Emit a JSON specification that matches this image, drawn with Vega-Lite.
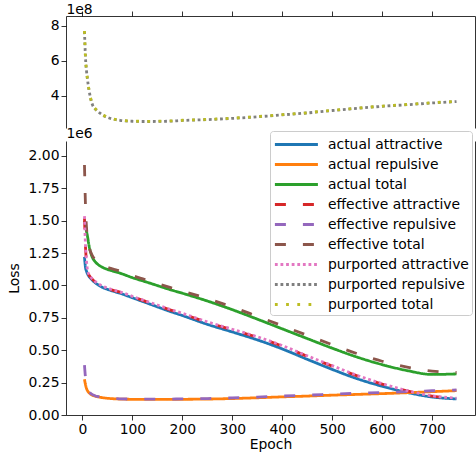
{
  "$schema": "https://vega.github.io/schema/vega-lite/v6.json",
  "width": 409,
  "height": 399,
  "autosize": {"type": "none"},
  "padding": {"left": 66, "top": 16, "right": 1, "bottom": 39},
  "background": "white",
  "config": {
    "view": {"stroke": null},
    "font": "DejaVu Sans",
    "axis": {
      "labelFont": "DejaVu Sans", "labelFontSize": 13.9, "labelColor": "#000",
      "titleFont": "DejaVu Sans", "titleFontSize": 13.9, "titleFontWeight": "normal", "titleColor": "#000",
      "tickColor": "#000", "tickWidth": 0.8, "tickSize": 5,
      "domainColor": "#000", "domainWidth": 0.8,
      "grid": false, "labelPadding": 2
    },
    "legend": {
      "orient": "none", "legendX": 204, "legendY": 115,
      "symbolType": "M-1,0L4,0", "symbolSize": 296, "symbolStrokeWidth": 2.8,
      "labelFont": "DejaVu Sans", "labelFontSize": 13.9, "labelColor": "#000",
      "rowPadding": 2, "padding": 3, "labelOffset": 34,
      "fillColor": "rgba(255,255,255,0.8)", "strokeColor": "#cccccc", "cornerRadius": 3
    }
  },
  "datasets": {
    "top": [
      {"s":"purported repulsive","e":4,"v":770000000},{"s":"purported repulsive","e":6,"v":620000000},{"s":"purported repulsive","e":8,"v":545000000},{"s":"purported repulsive","e":10,"v":495000000},{"s":"purported repulsive","e":13,"v":435000000},{"s":"purported repulsive","e":16,"v":390000000},{"s":"purported repulsive","e":20,"v":350000000},{"s":"purported repulsive","e":25,"v":328000000},{"s":"purported repulsive","e":30,"v":314000000},{"s":"purported repulsive","e":40,"v":292000000},{"s":"purported repulsive","e":50,"v":278000000},{"s":"purported repulsive","e":60,"v":269000000},{"s":"purported repulsive","e":75,"v":261000000},{"s":"purported repulsive","e":100,"v":255500000},{"s":"purported repulsive","e":125,"v":254000000},{"s":"purported repulsive","e":150,"v":254500000},{"s":"purported repulsive","e":175,"v":256000000},{"s":"purported repulsive","e":200,"v":260000000},{"s":"purported repulsive","e":250,"v":265000000},{"s":"purported repulsive","e":300,"v":272000000},{"s":"purported repulsive","e":350,"v":281000000},{"s":"purported repulsive","e":400,"v":292000000},{"s":"purported repulsive","e":450,"v":303000000},{"s":"purported repulsive","e":500,"v":317000000},{"s":"purported repulsive","e":550,"v":329000000},{"s":"purported repulsive","e":600,"v":341000000},{"s":"purported repulsive","e":650,"v":350000000},{"s":"purported repulsive","e":700,"v":360000000},{"s":"purported repulsive","e":749,"v":368000000},
      {"s":"purported total","e":4,"v":771200000},{"s":"purported total","e":6,"v":621200000},{"s":"purported total","e":8,"v":546200000},{"s":"purported total","e":10,"v":496200000},{"s":"purported total","e":13,"v":436200000},{"s":"purported total","e":16,"v":391200000},{"s":"purported total","e":20,"v":351200000},{"s":"purported total","e":25,"v":329200000},{"s":"purported total","e":30,"v":315200000},{"s":"purported total","e":40,"v":293200000},{"s":"purported total","e":50,"v":279200000},{"s":"purported total","e":60,"v":270200000},{"s":"purported total","e":75,"v":262200000},{"s":"purported total","e":100,"v":256700000},{"s":"purported total","e":125,"v":255200000},{"s":"purported total","e":150,"v":255700000},{"s":"purported total","e":175,"v":257200000},{"s":"purported total","e":200,"v":261200000},{"s":"purported total","e":250,"v":266200000},{"s":"purported total","e":300,"v":273200000},{"s":"purported total","e":350,"v":282200000},{"s":"purported total","e":400,"v":293200000},{"s":"purported total","e":450,"v":304200000},{"s":"purported total","e":500,"v":318200000},{"s":"purported total","e":550,"v":330200000},{"s":"purported total","e":600,"v":342200000},{"s":"purported total","e":650,"v":351200000},{"s":"purported total","e":700,"v":361200000},{"s":"purported total","e":749,"v":369200000}
    ],
    "bottom": [
      {"s":"actual attractive","e":4,"v":1220000},{"s":"actual attractive","e":6,"v":1140000},{"s":"actual attractive","e":8,"v":1110000},{"s":"actual attractive","e":10,"v":1090000},{"s":"actual attractive","e":13,"v":1070000},{"s":"actual attractive","e":16,"v":1056000},{"s":"actual attractive","e":20,"v":1040000},{"s":"actual attractive","e":25,"v":1022000},{"s":"actual attractive","e":30,"v":1008000},{"s":"actual attractive","e":40,"v":985000},{"s":"actual attractive","e":50,"v":970000},{"s":"actual attractive","e":60,"v":957000},{"s":"actual attractive","e":75,"v":940000},{"s":"actual attractive","e":100,"v":905000},{"s":"actual attractive","e":125,"v":870000},{"s":"actual attractive","e":150,"v":835000},{"s":"actual attractive","e":175,"v":800000},{"s":"actual attractive","e":200,"v":768000},{"s":"actual attractive","e":250,"v":700000},{"s":"actual attractive","e":300,"v":641000},{"s":"actual attractive","e":350,"v":580000},{"s":"actual attractive","e":400,"v":510000},{"s":"actual attractive","e":450,"v":430000},{"s":"actual attractive","e":500,"v":352000},{"s":"actual attractive","e":550,"v":280000},{"s":"actual attractive","e":600,"v":222000},{"s":"actual attractive","e":650,"v":174000},{"s":"actual attractive","e":700,"v":139000},{"s":"actual attractive","e":749,"v":124000},
      {"s":"actual repulsive","e":4,"v":275000},{"s":"actual repulsive","e":6,"v":235000},{"s":"actual repulsive","e":8,"v":205000},{"s":"actual repulsive","e":10,"v":188000},{"s":"actual repulsive","e":13,"v":172000},{"s":"actual repulsive","e":16,"v":162000},{"s":"actual repulsive","e":20,"v":153000},{"s":"actual repulsive","e":25,"v":146000},{"s":"actual repulsive","e":30,"v":141000},{"s":"actual repulsive","e":40,"v":134000},{"s":"actual repulsive","e":50,"v":129000},{"s":"actual repulsive","e":60,"v":126000},{"s":"actual repulsive","e":75,"v":123000},{"s":"actual repulsive","e":100,"v":121000},{"s":"actual repulsive","e":125,"v":120000},{"s":"actual repulsive","e":150,"v":120000},{"s":"actual repulsive","e":175,"v":120000},{"s":"actual repulsive","e":200,"v":121000},{"s":"actual repulsive","e":250,"v":123000},{"s":"actual repulsive","e":300,"v":127000},{"s":"actual repulsive","e":350,"v":133000},{"s":"actual repulsive","e":400,"v":140000},{"s":"actual repulsive","e":450,"v":146000},{"s":"actual repulsive","e":500,"v":153000},{"s":"actual repulsive","e":550,"v":159000},{"s":"actual repulsive","e":600,"v":165000},{"s":"actual repulsive","e":650,"v":172000},{"s":"actual repulsive","e":700,"v":180000},{"s":"actual repulsive","e":749,"v":188000},
      {"s":"actual total","e":4,"v":1500000},{"s":"actual total","e":6,"v":1460000},{"s":"actual total","e":8,"v":1420000},{"s":"actual total","e":10,"v":1380000},{"s":"actual total","e":13,"v":1310000},{"s":"actual total","e":16,"v":1260000},{"s":"actual total","e":20,"v":1215000},{"s":"actual total","e":25,"v":1185000},{"s":"actual total","e":30,"v":1165000},{"s":"actual total","e":40,"v":1140000},{"s":"actual total","e":50,"v":1124000},{"s":"actual total","e":60,"v":1112000},{"s":"actual total","e":75,"v":1095000},{"s":"actual total","e":100,"v":1060000},{"s":"actual total","e":125,"v":1030000},{"s":"actual total","e":150,"v":999000},{"s":"actual total","e":175,"v":968000},{"s":"actual total","e":200,"v":940000},{"s":"actual total","e":250,"v":880000},{"s":"actual total","e":300,"v":813000},{"s":"actual total","e":350,"v":740000},{"s":"actual total","e":400,"v":665000},{"s":"actual total","e":450,"v":590000},{"s":"actual total","e":500,"v":516000},{"s":"actual total","e":550,"v":447000},{"s":"actual total","e":600,"v":389000},{"s":"actual total","e":650,"v":343000},{"s":"actual total","e":700,"v":313000},{"s":"actual total","e":749,"v":317000},
      {"s":"effective attractive","e":4,"v":1520000},{"s":"effective attractive","e":6,"v":1300000},{"s":"effective attractive","e":8,"v":1180000},{"s":"effective attractive","e":10,"v":1115000},{"s":"effective attractive","e":13,"v":1080000},{"s":"effective attractive","e":16,"v":1064000},{"s":"effective attractive","e":20,"v":1047000},{"s":"effective attractive","e":25,"v":1029000},{"s":"effective attractive","e":30,"v":1015000},{"s":"effective attractive","e":40,"v":992000},{"s":"effective attractive","e":50,"v":977000},{"s":"effective attractive","e":60,"v":964000},{"s":"effective attractive","e":75,"v":948000},{"s":"effective attractive","e":100,"v":913000},{"s":"effective attractive","e":125,"v":879000},{"s":"effective attractive","e":150,"v":845000},{"s":"effective attractive","e":175,"v":812000},{"s":"effective attractive","e":200,"v":781000},{"s":"effective attractive","e":250,"v":715000},{"s":"effective attractive","e":300,"v":658000},{"s":"effective attractive","e":350,"v":600000},{"s":"effective attractive","e":400,"v":532000},{"s":"effective attractive","e":450,"v":453000},{"s":"effective attractive","e":500,"v":377000},{"s":"effective attractive","e":550,"v":302000},{"s":"effective attractive","e":600,"v":239000},{"s":"effective attractive","e":650,"v":186000},{"s":"effective attractive","e":700,"v":146000},{"s":"effective attractive","e":749,"v":129000},
      {"s":"effective repulsive","e":4,"v":385000},{"s":"effective repulsive","e":6,"v":290000},{"s":"effective repulsive","e":8,"v":235000},{"s":"effective repulsive","e":10,"v":205000},{"s":"effective repulsive","e":13,"v":182000},{"s":"effective repulsive","e":16,"v":168000},{"s":"effective repulsive","e":20,"v":157000},{"s":"effective repulsive","e":25,"v":149000},{"s":"effective repulsive","e":30,"v":143000},{"s":"effective repulsive","e":40,"v":136000},{"s":"effective repulsive","e":50,"v":131000},{"s":"effective repulsive","e":60,"v":128000},{"s":"effective repulsive","e":75,"v":125000},{"s":"effective repulsive","e":100,"v":123000},{"s":"effective repulsive","e":125,"v":122000},{"s":"effective repulsive","e":150,"v":122000},{"s":"effective repulsive","e":175,"v":123000},{"s":"effective repulsive","e":200,"v":124000},{"s":"effective repulsive","e":250,"v":127000},{"s":"effective repulsive","e":300,"v":132000},{"s":"effective repulsive","e":350,"v":138000},{"s":"effective repulsive","e":400,"v":146000},{"s":"effective repulsive","e":450,"v":153000},{"s":"effective repulsive","e":500,"v":161000},{"s":"effective repulsive","e":550,"v":168000},{"s":"effective repulsive","e":600,"v":174000},{"s":"effective repulsive","e":650,"v":180000},{"s":"effective repulsive","e":700,"v":187000},{"s":"effective repulsive","e":749,"v":193000},
      {"s":"effective total","e":4,"v":1930000},{"s":"effective total","e":6,"v":1620000},{"s":"effective total","e":8,"v":1450000},{"s":"effective total","e":10,"v":1370000},{"s":"effective total","e":13,"v":1300000},{"s":"effective total","e":16,"v":1262000},{"s":"effective total","e":20,"v":1228000},{"s":"effective total","e":25,"v":1200000},{"s":"effective total","e":30,"v":1180000},{"s":"effective total","e":40,"v":1155000},{"s":"effective total","e":50,"v":1140000},{"s":"effective total","e":60,"v":1128000},{"s":"effective total","e":75,"v":1112000},{"s":"effective total","e":100,"v":1076000},{"s":"effective total","e":125,"v":1046000},{"s":"effective total","e":150,"v":1015000},{"s":"effective total","e":175,"v":985000},{"s":"effective total","e":200,"v":957000},{"s":"effective total","e":250,"v":899000},{"s":"effective total","e":300,"v":834000},{"s":"effective total","e":350,"v":762000},{"s":"effective total","e":400,"v":689000},{"s":"effective total","e":450,"v":615000},{"s":"effective total","e":500,"v":543000},{"s":"effective total","e":550,"v":474000},{"s":"effective total","e":600,"v":415000},{"s":"effective total","e":650,"v":369000},{"s":"effective total","e":700,"v":339000},{"s":"effective total","e":749,"v":328000},
      {"s":"purported attractive","e":4,"v":1535000},{"s":"purported attractive","e":6,"v":1310000},{"s":"purported attractive","e":8,"v":1190000},{"s":"purported attractive","e":10,"v":1120000},{"s":"purported attractive","e":13,"v":1084000},{"s":"purported attractive","e":16,"v":1067000},{"s":"purported attractive","e":20,"v":1050000},{"s":"purported attractive","e":25,"v":1032000},{"s":"purported attractive","e":30,"v":1018000},{"s":"purported attractive","e":40,"v":995000},{"s":"purported attractive","e":50,"v":980000},{"s":"purported attractive","e":60,"v":967000},{"s":"purported attractive","e":75,"v":951000},{"s":"purported attractive","e":100,"v":916000},{"s":"purported attractive","e":125,"v":882000},{"s":"purported attractive","e":150,"v":849000},{"s":"purported attractive","e":175,"v":816000},{"s":"purported attractive","e":200,"v":785000},{"s":"purported attractive","e":250,"v":719000},{"s":"purported attractive","e":300,"v":662000},{"s":"purported attractive","e":350,"v":604000},{"s":"purported attractive","e":400,"v":536000},{"s":"purported attractive","e":450,"v":457000},{"s":"purported attractive","e":500,"v":381000},{"s":"purported attractive","e":550,"v":306000},{"s":"purported attractive","e":600,"v":242000},{"s":"purported attractive","e":650,"v":188000},{"s":"purported attractive","e":700,"v":148000},{"s":"purported attractive","e":749,"v":130000}
    ]
  },
  "layer": [
    {
      "data": {"name": "top"},
      "layer": [
        {
          "transform": [{"filter": "datum.s === 'purported repulsive'"}],
          "mark": {"type": "line", "interpolate": "monotone", "strokeWidth": 2.8},
          "encoding": {
            "x": {"field": "e", "type": "quantitative", "scale": {"domain": [-33, 786], "nice": false, "zero": false},
                  "axis": {"orient": "top", "values": [0,100,200,300,400,500,600,700], "labels": false, "title": null}},
            "y": {"field": "v", "type": "quantitative", "scale": {"domain": [217000000, 857000000], "range": [112, 0], "nice": false, "zero": false},
                  "axis": {"orient": "left", "values": [400000000, 600000000, 800000000], "labelExpr": "format(datum.value/1e8, 'd')",
                           "title": "1e8", "titleAngle": 0, "titleX": 13, "titleY": -3, "titleAlign": "center", "titleBaseline": "alphabetic"}},
            "color": {"field": "s", "type": "nominal", "legend": {"title": null},
                      "scale": {"domain": ["actual attractive","actual repulsive","actual total","effective attractive","effective repulsive","effective total","purported attractive","purported repulsive","purported total"],
                                "range": ["#1f77b4","#ff7f0e","#2ca02c","#d62728","#9467bd","#8c564b","#e377c2","#7f7f7f","#bcbd22"]}},
            "strokeDash": {"field": "s", "type": "nominal", "legend": {"title": null},
                      "scale": {"domain": ["actual attractive","actual repulsive","actual total","effective attractive","effective repulsive","effective total","purported attractive","purported repulsive","purported total"],
                                "range": [[1,0],[1,0],[1,0],[11,17],[11,17],[11,17],[2.8,2.8],[2.8,2.8],[2.8,8.4]]}}
          }
        },
        {
          "transform": [{"filter": "datum.s === 'purported total'"}],
          "mark": {"type": "line", "interpolate": "monotone", "strokeWidth": 2.8},
          "encoding": {
            "x": {"field": "e", "type": "quantitative"},
            "y": {"field": "v", "type": "quantitative", "axis": {"orient": "right", "labels": false, "ticks": false, "title": null}},
            "color": {"field": "s", "type": "nominal", "legend": {"title": null}},
            "strokeDash": {"field": "s", "type": "nominal", "legend": {"title": null}}
          }
        }
      ],
      "resolve": {"axis": {"y": "independent"}}
    },
    {
      "data": {"name": "bottom"},
      "layer": [
        {
          "transform": [{"filter": "datum.s !== 'purported attractive'"}],
          "mark": {"type": "line", "interpolate": "monotone", "strokeWidth": 2.8},
          "encoding": {
            "x": {"field": "e", "type": "quantitative", "scale": {"domain": [-33, 786], "nice": false, "zero": false},
                  "axis": {"orient": "bottom", "values": [0,100,200,300,400,500,600,700], "title": "Epoch", "titlePadding": 2}},
            "y": {"field": "v", "type": "quantitative", "scale": {"domain": [0, 2115000], "range": [399, 125], "nice": false, "zero": false},
                  "axis": {"orient": "left", "values": [0,250000,500000,750000,1000000,1250000,1500000,1750000,2000000],
                           "labelExpr": "format(datum.value/1e6, '.2f')", "title": "Loss", "titlePadding": 7}},
            "color": {"field": "s", "type": "nominal", "legend": {"title": null}},
            "strokeDash": {"field": "s", "type": "nominal", "legend": {"title": null}}
          }
        },
        {
          "transform": [{"filter": "datum.s === 'purported attractive'"}],
          "mark": {"type": "line", "interpolate": "monotone", "strokeWidth": 2.8},
          "encoding": {
            "x": {"field": "e", "type": "quantitative"},
            "y": {"field": "v", "type": "quantitative",
                  "axis": {"orient": "right", "labels": false, "ticks": false,
                           "title": "1e6", "titleAngle": 0, "titleX": -396, "titleY": 121, "titleAlign": "center", "titleBaseline": "alphabetic"}},
            "color": {"field": "s", "type": "nominal", "legend": {"title": null}},
            "strokeDash": {"field": "s", "type": "nominal", "legend": {"title": null}}
          }
        }
      ],
      "resolve": {"axis": {"y": "independent"}}
    }
  ],
  "resolve": {"scale": {"x": "independent", "y": "independent"}, "axis": {"x": "independent", "y": "independent"}}
}
